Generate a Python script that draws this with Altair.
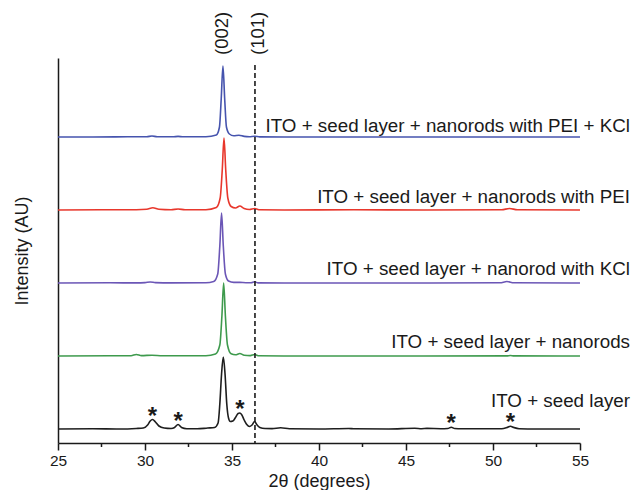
import altair as alt
import pandas as pd

# ---------------- data ----------------
x_ticks = [25, 30, 35, 40, 45, 50, 55]
x_minor_ticks = [27.5, 32.5, 37.5, 42.5, 47.5, 52.5]

series_names = [
    "ITO + seed layer + nanorods with PEI + KCl",
    "ITO + seed layer + nanorods with PEI",
    "ITO + seed layer + nanorod with KCl",
    "ITO + seed layer + nanorods",
    "ITO + seed layer",
]
series_colors = ["#4654ae", "#e8372c", "#6b56b6", "#3e9a4d", "#1e1e1e"]
series_offsets = [306, 233, 160, 87, 14]

blue_x = [25, 27, 29, 30.1, 30.4, 30.7, 31.6, 31.9, 32.2, 33.5, 34.1, 34.28, 34.38, 34.48,
          34.58, 34.68, 34.85, 35.1, 35.4, 35.7, 36.0, 36.3, 36.6, 38, 42, 46, 50, 55]
blue_y = [0, 0, 0.2, 0.3, 1.0, 0.3, 0.2, 0.6, 0.2, 0.3, 2.0, 10, 38, 71,
          38, 10, 3.0, 1.2, 1.8, 0.6, 0.3, 0.8, 0.1, 0, 0, 0, 0, 0]

red_x = [25, 27.5, 29.5, 30.1, 30.45, 30.8, 31.5, 31.9, 32.3, 33.5, 34.1, 34.32, 34.44, 34.54,
         34.64, 34.76, 34.95, 35.2, 35.45, 35.7, 36.0, 36.3, 36.6, 38, 42, 46, 50.5, 50.95, 51.4, 55]
red_y = [0, 0.2, 0.3, 0.8, 2.3, 0.8, 0.3, 1.0, 0.3, 0.3, 2.5, 12, 40, 72,
         40, 12, 3.5, 2.0, 4.0, 1.5, 0.5, 1.5, 0.2, 0, 0.2, 0, 0.2, 1.5, 0.2, 0]

purple_x = [25, 28, 29.5, 30.0, 30.3, 30.6, 31.5, 33.5, 33.95, 34.18, 34.3, 34.4, 34.5, 34.62,
            34.8, 35.1, 35.45, 35.8, 36.1, 36.3, 36.5, 38, 42, 46, 50.4, 50.8, 51.2, 55]
purple_y = [0, 0.2, 0.1, 0.4, 1.0, 0.4, 0.1, 0.2, 1.5, 9, 37, 70, 37, 9,
            2.0, 0.6, 0.6, 0.3, 0.3, 1.2, 0.1, 0, 0, 0, 0.2, 1.5, 0.2, 0]

green_x = [25, 28, 29.2, 29.5, 29.8, 30.4, 31, 33.5, 34.05, 34.3, 34.42, 34.52, 34.62, 34.74,
           34.95, 35.2, 35.45, 35.7, 36.05, 36.3, 36.55, 38, 42, 46, 50.8, 51.0, 51.2, 55]
green_y = [0, 0.2, 0.3, 1.5, 0.4, 0.8, 0.2, 0.3, 2.0, 11, 40, 73, 40, 11,
           2.2, 1.2, 2.5, 0.8, 0.4, 1.5, 0.2, 0, 0, 0, 0.1, 0.5, 0.1, 0]

black_x = [25, 27, 28.5, 29.5, 29.9, 30.15, 30.3, 30.43, 30.6, 30.8, 31.1, 31.5, 31.7, 31.9,
           32.1, 32.4, 33.0, 33.6, 34.0, 34.2, 34.3, 34.4, 34.5, 34.6, 34.7, 34.8, 34.9, 35.05,
           35.2, 35.35, 35.45, 35.55, 35.7, 35.85, 36.0, 36.15, 36.3, 36.42, 36.6, 36.9, 37.3,
           37.8, 38.3, 40, 41.7, 42, 44, 45.5, 45.9, 46.2, 47.0, 47.4, 47.6, 47.8, 48.2, 50.5,
           50.8, 51.0, 51.2, 51.5, 52.5, 55]
black_y = [0, 0.3, 0, 0.5, 1.0, 4.0, 8.0, 9.5, 7.0, 3.0, 1.0, 0.5, 1.5, 4.5,
           1.5, 0.3, 0.2, 1.0, 1.5, 6.0, 25, 55, 72, 55, 25, 11, 7.5, 8.0,
           11.5, 15.5, 16, 14.5, 9.0, 4.5, 2.5, 4.0, 7.5, 4.5, 1.5, 0.5, 0.4,
           1.2, 0.2, 0, 0.5, 0.2, 0, 0.8, 0.3, 0.6, 0.3, 0.5, 1.8, 0.5, 0.3, 0.3,
           1.5, 2.8, 1.5, 0.3, 0, 0]

series_x = [blue_x, red_x, purple_x, green_x, black_x]
series_y = [blue_y, red_y, purple_y, green_y, black_y]

star_x = [30.43, 31.9, 35.45, 47.6, 51.0]
star_peak = [9.5, 4.5, 16, 1.8, 2.8]

plane_labels = ["(002)", "(101)"]
plane_x = [34.45, 36.47]
dashed_x = [36.32]

# ---------------- layout / style ----------------
W, H = 522, 385
FONT = "Liberation Sans"
INK = "#1a1a1a"
label_gap_px = [5, 7, 8, 8, 22]

rows = []
for name, xs, ys, off in zip(series_names, series_x, series_y, series_offsets):
    for xv, yv in zip(xs, ys):
        rows.append({"series": name, "two_theta": xv, "y": yv + off})
df = pd.DataFrame(rows)

lab_df = pd.DataFrame({
    "series": series_names,
    "y": [o + g for o, g in zip(series_offsets, label_gap_px)],
})
star_df = pd.DataFrame({"two_theta": star_x, "y": [p + series_offsets[-1] for p in star_peak],
                        "t": ["*"] * len(star_x)})
plane_df = pd.DataFrame({"two_theta": plane_x, "t": plane_labels})
dash_df = pd.DataFrame({"two_theta": dashed_x})
minor_df = pd.DataFrame({"two_theta": x_minor_ticks})

xscale = alt.Scale(domain=[25, 55], nice=False, zero=False)
yscale = alt.Scale(domain=[0, H], nice=False, zero=False)

lines = alt.Chart(df).mark_line(strokeWidth=1.6, interpolate="monotone").encode(
    x=alt.X("two_theta:Q", scale=xscale,
            axis=alt.Axis(values=x_ticks, title="2θ (degrees)", grid=False, labelFlush=False,
                          tickSize=7, labelPadding=3, titlePadding=4)),
    y=alt.Y("y:Q", scale=yscale,
            axis=alt.Axis(ticks=False, labels=False, grid=False, title="Intensity (AU)",
                          titlePadding=27)),
    color=alt.Color("series:N", scale=alt.Scale(domain=series_names, range=series_colors),
                    legend=None),
)

xq = alt.X("two_theta:Q", scale=xscale)
yq = alt.Y("y:Q", scale=yscale)

minor = alt.Chart(minor_df).mark_rule(strokeWidth=1.5, color=INK).encode(
    x=xq, y=alt.value(H), y2=alt.value(H + 4),
)

labels = alt.Chart(lab_df).mark_text(align="right", baseline="alphabetic", fontSize=18.8,
                                     font=FONT, color=INK).encode(
    x=alt.value(W + 50), y=yq, text="series:N",
)

stars = alt.Chart(star_df).mark_text(align="center", baseline="alphabetic", fontSize=24,
                                     fontWeight="bold", font=FONT, color=INK, dy=4).encode(
    x=xq, y=yq, text="t:N",
)

planes = alt.Chart(plane_df).mark_text(angle=270, align="left", baseline="middle", fontSize=18.5,
                                       font=FONT, color=INK).encode(
    x=xq, y=alt.value(-3), text="t:N",
)

dash = alt.Chart(dash_df).mark_rule(strokeDash=[5, 3], strokeWidth=1.6, color=INK).encode(
    x=xq, y=alt.value(7), y2=alt.value(H),
)

chart = alt.layer(lines, dash, minor, labels, stars, planes).properties(
    width=W, height=H,
    padding={"left": 50, "top": 50, "right": 51, "bottom": 47},
    autosize=alt.AutoSizeParams(type="none"),
).configure_view(stroke=None).configure_axis(
    domainColor=INK, domainWidth=1.5, tickColor=INK, tickWidth=1.5,
    labelFont=FONT, labelFontSize=15.5, labelColor=INK,
    titleFont=FONT, titleFontSize=18, titleFontWeight="normal", titleColor=INK,
)

chart.save("out.html", embed_options={"renderer": "svg", "actions": False})
